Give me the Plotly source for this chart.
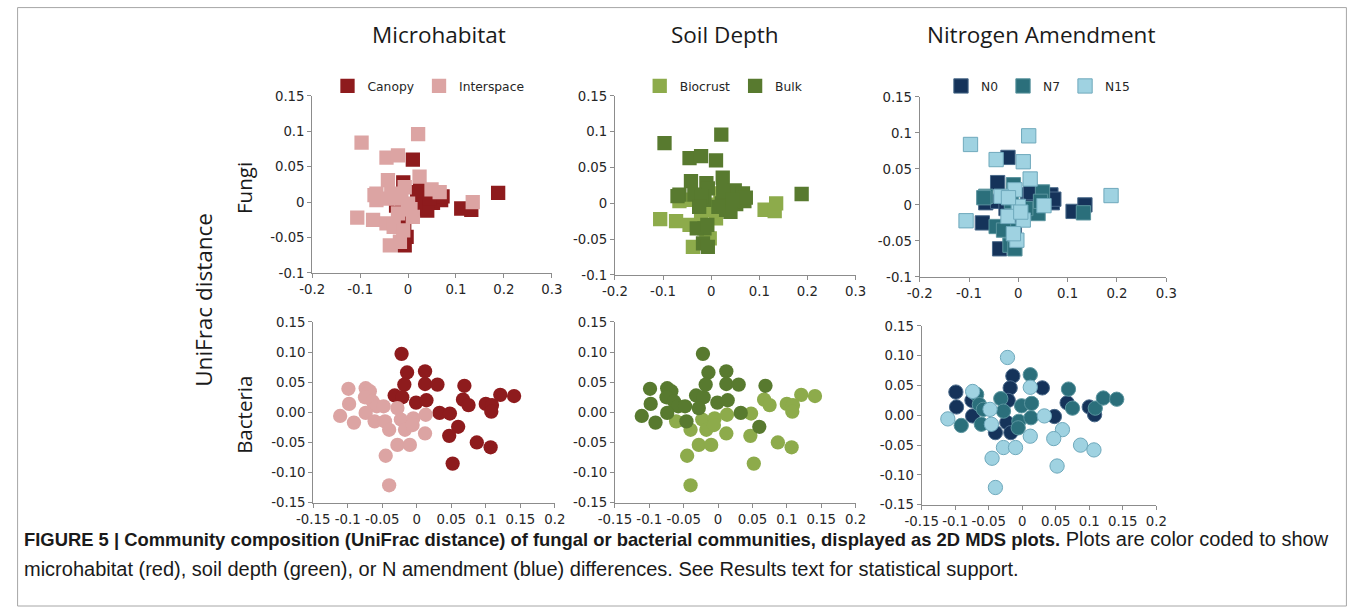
import plotly.graph_objects as go

# ---------------- data ----------------
fungi_x = [-0.097, 0.021, -0.045, -0.021, 0.010, 0.024, -0.042, -0.010, -0.007, 0.049,
           0.066, -0.066, -0.066, -0.035, -0.014, 0.000, 0.019, 0.022, 0.031, 0.052,
           0.069, 0.111, 0.132, 0.135, 0.188, -0.106, -0.073, -0.045, -0.021, 0.010,
           -0.014, -0.003, -0.038, -0.017, -0.007, -0.030, -0.070, 0.025, -0.042, -0.020,
           0.005, 0.040, -0.025, -0.008, 0.072, 0.045, -0.010, 0.015]
fungi_y = [0.084, 0.096, 0.063, 0.066, 0.060, 0.036, 0.031, 0.028, 0.021, 0.018,
           0.014, 0.012, 0.003, 0.012, 0.005, -0.002, 0.014, 0.000, -0.009, -0.001,
           0.003, -0.009, -0.011, 0.000, 0.013, -0.022, -0.025, -0.030, -0.016, -0.021,
           -0.035, -0.049, -0.061, -0.056, -0.061, -0.035, 0.010, 0.017, 0.005, 0.010,
           -0.010, -0.012, -0.005, -0.030, 0.008, 0.005, -0.040, -0.005]
fungi_micro = ["I", "I", "I", "I", "C", "I", "I", "C", "I", "I",
               "I", "I", "I", "I", "I", "I", "C", "C", "C", "C",
               "C", "C", "C", "I", "C", "I", "I", "I", "I", "I",
               "C", "C", "I", "I", "C", "I", "I", "C", "I", "I",
               "I", "C", "C", "C", "C", "C", "I", "C"]
fungi_depth = ["Bulk", "Bulk", "Bulk", "Bulk", "Bulk", "Bulk", "Bulk", "Bulk", "Bulk", "Bulk",
               "Bulk", "Bulk", "Biocrust", "Bulk", "Bulk", "Biocrust", "Biocrust", "Bulk", "Bulk", "Bulk",
               "Bulk", "Biocrust", "Biocrust", "Biocrust", "Bulk", "Biocrust", "Biocrust", "Biocrust", "Biocrust", "Biocrust",
               "Bulk", "Biocrust", "Biocrust", "Bulk", "Bulk", "Bulk", "Bulk", "Bulk", "Biocrust", "Bulk",
               "Biocrust", "Bulk", "Bulk", "Bulk", "Bulk", "Bulk", "Biocrust", "Bulk"]
fungi_n = ["N15", "N15", "N15", "N0", "N15", "N15", "N0", "N7", "N15", "N7",
           "N0", "N7", "N0", "N15", "N7", "N15", "N0", "N0", "N7", "N15",
           "N0", "N0", "N7", "N0", "N15", "N15", "N0", "N7", "N15", "N15",
           "N7", "N15", "N0", "N7", "N7", "N7", "N7", "N0", "N0", "N15",
           "N15", "N7", "N0", "N0", "N0", "N7", "N15", "N7"]

bact_x = [-0.022, -0.014, -0.018, 0.012, 0.012, 0.030, -0.032, -0.021, -0.001, 0.014,
          0.033, 0.048, 0.060, 0.047, 0.069, 0.067, 0.075, 0.100, 0.109, 0.108,
          0.121, 0.141, 0.087, 0.107, 0.052,
          -0.099, -0.098, -0.111, -0.091, -0.074, -0.068, -0.075, -0.064, -0.058, -0.048,
          -0.074, -0.061, -0.046, -0.040, -0.028, -0.023, -0.017, -0.005, -0.006, 0.013,
          0.012, -0.028, -0.010, -0.045, -0.040]
bact_y = [0.097, 0.066, 0.046, 0.068, 0.047, 0.046, 0.028, 0.025, 0.016, 0.020,
          -0.001, -0.002, -0.024, -0.039, 0.044, 0.021, 0.012, 0.014, 0.012, 0.001,
          0.029, 0.027, -0.050, -0.058, -0.085,
          0.039, 0.014, -0.006, -0.017, 0.040, 0.035, 0.025, 0.018, 0.010, 0.010,
          -0.001, -0.015, -0.015, -0.029, 0.007, -0.012, -0.029, -0.010, -0.021, -0.004,
          -0.035, -0.054, -0.054, -0.072, -0.121]
bact_micro = ["C"] * 25 + ["I"] * 25
bact_depth = ["Bulk", "Bulk", "Bulk", "Bulk", "Bulk", "Bulk", "Bulk", "Bulk", "Bulk", "Bulk",
              "Bulk", "Biocrust", "Bulk", "Biocrust", "Bulk", "Biocrust", "Biocrust", "Biocrust", "Biocrust", "Biocrust",
              "Biocrust", "Biocrust", "Biocrust", "Biocrust", "Biocrust",
              "Bulk", "Bulk", "Bulk", "Bulk", "Bulk", "Bulk", "Bulk", "Bulk", "Bulk", "Bulk",
              "Bulk", "Biocrust", "Bulk", "Biocrust", "Bulk", "Biocrust", "Biocrust", "Biocrust", "Biocrust", "Biocrust",
              "Biocrust", "Biocrust", "Biocrust", "Biocrust", "Biocrust"]
bact_n = ["N15", "N0", "N0", "N7", "N15", "N0", "N7", "N0", "N7", "N7",
          "N15", "N0", "N15", "N15", "N7", "N0", "N7", "N0", "N7", "N0",
          "N7", "N7", "N15", "N15", "N15",
          "N0", "N0", "N15", "N7", "N15", "N7", "N0", "N7", "N7", "N15",
          "N0", "N7", "N15", "N0", "N7", "N0", "N0", "N7", "N7", "N7",
          "N15", "N15", "N15", "N15", "N15"]

micro_keys = ["C", "I"]
micro_names = ["Canopy", "Interspace"]
depth_keys = ["Biocrust", "Bulk"]
n_keys = ["N0", "N7", "N15"]

col_titles = ["Microhabitat", "Soil Depth", "Nitrogen Amendment"]
row_titles = ["Fungi", "Bacteria"]

fungi_xticks = [-0.2, -0.1, 0, 0.1, 0.2, 0.3]
fungi_xtext = ["-0.2", "-0.1", "0", "0.1", "0.2", "0.3"]
fungi_yticks = [-0.1, -0.05, 0, 0.05, 0.1, 0.15]
fungi_ytext = ["-0.1", "-0.05", "0", "0.05", "0.1", "0.15"]
bact_xticks = [-0.15, -0.1, -0.05, 0, 0.05, 0.1, 0.15, 0.2]
bact_xtext = ["-0.15", "-0.1", "-0.05", "0", "0.05", "0.1", "0.15", "0.2"]
bact_yticks = [-0.15, -0.1, -0.05, 0, 0.05, 0.1, 0.15]
bact_ytext = ["-0.15", "-0.10", "-0.05", "0.00", "0.05", "0.10", "0.15"]

caption_bold = ("FIGURE 5 | Community composition (UniFrac distance) of fungal or bacterial "
                "communities, displayed as 2D MDS plots.")
caption_rest1 = " Plots are color coded to show"
caption_line2 = ("microhabitat (red), soil depth (green), or N amendment (blue) differences. "
                 "See Results text for statistical support.")

# ---------------- layout helpers ----------------
W, H = 1358, 614
# the photographed page appears slightly inset; positions are given in the
# reference picture's pixels and mapped back to page pixels
SX, SY, OX, OY = 0.977, 0.976, 16.5, 7.0
Z = 1 / SX  # size compensation

def fx(p):
    return ((p - OX) / SX) / W

def fy(p):
    return 1 - ((p - OY) / SY) / H

def fs(s):
    return round(s * Z, 1)

colors = {"C": "#8e1b1d", "I": "#dca4a3",
          "Biocrust": "#8dab4b", "Bulk": "#587a2f",
          "N0": "#15335a", "N7": "#2b6f7b", "N15": "#9fd2e1"}
outline = {"N0": "#4a6a8a", "N7": "#5a949e", "N15": "#6fa9bc"}

TICK_FONT = dict(family="DejaVu Sans", size=fs(13), color="#262626")
TITLE_FONT = "Open Sans"
MS = fs(14)

boxes = {
    (0, 0): (311, 550, 96, 273), (0, 1): (613, 853, 96, 275), (0, 2): (917, 1163, 97, 277),
    (1, 0): (312, 553, 322, 503), (1, 1): (613, 853, 322, 503), (1, 2): (919, 1153, 326, 505),
}
legend_x = [427, 722, 1035]

fig = go.Figure()
axis_idx = {}
k = 0
for r in range(2):
    for c in range(3):
        k += 1
        axis_idx[(r, c)] = k
        l, rr, t, b = boxes[(r, c)]
        xa = "xaxis" if k == 1 else f"xaxis{k}"
        ya = "yaxis" if k == 1 else f"yaxis{k}"
        if r == 0:
            xr, xt, xtt, yr, yt, ytt = [-0.2, 0.3], fungi_xticks, fungi_xtext, [-0.1, 0.15], fungi_yticks, fungi_ytext
        else:
            xr, xt, xtt, yr, yt, ytt = [-0.15, 0.2], bact_xticks, bact_xtext, [-0.15, 0.15], bact_yticks, bact_ytext
        common = dict(showgrid=False, zeroline=False, showline=True, linecolor="#8c8c8c", linewidth=1,
                      ticks="outside", ticklen=4, tickcolor="#8c8c8c", tickfont=TICK_FONT)
        fig.update_layout(**{
            xa: dict(domain=[fx(l), fx(rr)], range=xr, tickvals=xt, ticktext=xtt,
                     anchor=f"y{k}" if k > 1 else "y", **common),
            ya: dict(domain=[fy(b), fy(t)], range=yr, tickvals=yt, ticktext=ytt,
                     anchor=f"x{k}" if k > 1 else "x", **common),
        })

def ax(r, c):
    k = axis_idx[(r, c)]
    return ("x" if k == 1 else f"x{k}"), ("y" if k == 1 else f"y{k}")

def sel(xs, ys, labels, key):
    idx = [i for i, v in enumerate(labels) if v == key]
    return [xs[i] for i in idx], [ys[i] for i in idx]

rows = [(fungi_x, fungi_y, fungi_micro, fungi_depth, fungi_n, "square"),
        (bact_x, bact_y, bact_micro, bact_depth, bact_n, "circle")]

for r, (xs, ys, mic, dep, nn, sym) in enumerate(rows):
    xa, ya = ax(r, 0)
    for key, name in zip(micro_keys, micro_names):
        px_, py_ = sel(xs, ys, mic, key)
        fig.add_trace(go.Scatter(x=px_, y=py_, mode="markers", name=name, xaxis=xa, yaxis=ya,
                                 legend="legend", showlegend=(r == 0),
                                 marker=dict(symbol=sym, size=MS, color=colors[key],
                                             line=dict(width=0))))
    xa, ya = ax(r, 1)
    for key in depth_keys:
        px_, py_ = sel(xs, ys, dep, key)
        fig.add_trace(go.Scatter(x=px_, y=py_, mode="markers", name=key, xaxis=xa, yaxis=ya,
                                 legend="legend2", showlegend=(r == 0),
                                 marker=dict(symbol=sym, size=MS, color=colors[key],
                                             line=dict(width=0))))
    xa, ya = ax(r, 2)
    for key in n_keys:
        px_, py_ = sel(xs, ys, nn, key)
        fig.add_trace(go.Scatter(x=px_, y=py_, mode="markers", name=key, xaxis=xa, yaxis=ya,
                                 legend="legend3", showlegend=(r == 0),
                                 marker=dict(symbol=sym, size=MS, color=colors[key],
                                             line=dict(width=1, color=outline[key]))))

leg_common = dict(orientation="h", yanchor="middle", xanchor="center", y=fy(86),
                  bgcolor="rgba(0,0,0,0)", font=dict(family="DejaVu Sans", size=fs(12), color="#262626"),
                  itemwidth=30, tracegroupgap=0, traceorder="normal")
fig.update_layout(
    legend=dict(x=fx(legend_x[0]), **leg_common),
    legend2=dict(x=fx(legend_x[1]), **leg_common),
    legend3=dict(x=fx(legend_x[2]), **leg_common),
)

annotations = []
title_x = [437, 723, 1038]
for txt, cx in zip(col_titles, title_x):
    annotations.append(dict(text=txt, x=fx(cx), y=fy(35), xref="paper", yref="paper",
                            showarrow=False, xanchor="center", yanchor="middle",
                            font=dict(family=TITLE_FONT, size=fs(22), color="#1a1a1a")))
for txt, cy in zip(row_titles, [188, 415]):
    annotations.append(dict(text=txt, x=fx(243), y=fy(cy), xref="paper", yref="paper",
                            showarrow=False, xanchor="center", yanchor="middle", textangle=-90,
                            font=dict(family=TITLE_FONT, size=fs(20), color="#1a1a1a")))
annotations.append(dict(text="UniFrac distance", x=fx(203), y=fy(300), xref="paper", yref="paper",
                        showarrow=False, xanchor="center", yanchor="middle", textangle=-90,
                        font=dict(family=TITLE_FONT, size=fs(22), color="#1a1a1a")))
cap_family = "Liberation Sans, Arial"
annotations.append(dict(text=f"<b><span style='font-size:{fs(18)}px'>{caption_bold}</span></b>{caption_rest1}",
                        x=fx(21), y=fy(539),
                        xref="paper", yref="paper", showarrow=False, xanchor="left", yanchor="middle",
                        font=dict(family=cap_family, size=fs(19.5), color="#1a1a1a")))
annotations.append(dict(text=caption_line2, x=fx(21), y=fy(569),
                        xref="paper", yref="paper", showarrow=False, xanchor="left", yanchor="middle",
                        font=dict(family=cap_family, size=fs(19.5), color="#1a1a1a")))

fig.update_layout(
    width=W, height=H, margin=dict(l=0, r=0, t=0, b=0),
    paper_bgcolor="white", plot_bgcolor="white",
    annotations=annotations,
    shapes=[dict(type="rect", xref="paper", yref="paper", x0=0.6 / W, x1=1 - 0.6 / W, y0=0.0, y1=1 - 0.6 / H,
                 line=dict(color="#a6a6a6", width=1), fillcolor="rgba(0,0,0,0)", layer="below")],
)

fig.write_html("out.html", config={"displayModeBar": False},
               post_script="document.body.style.margin='0';document.documentElement.style.overflow='hidden';")
